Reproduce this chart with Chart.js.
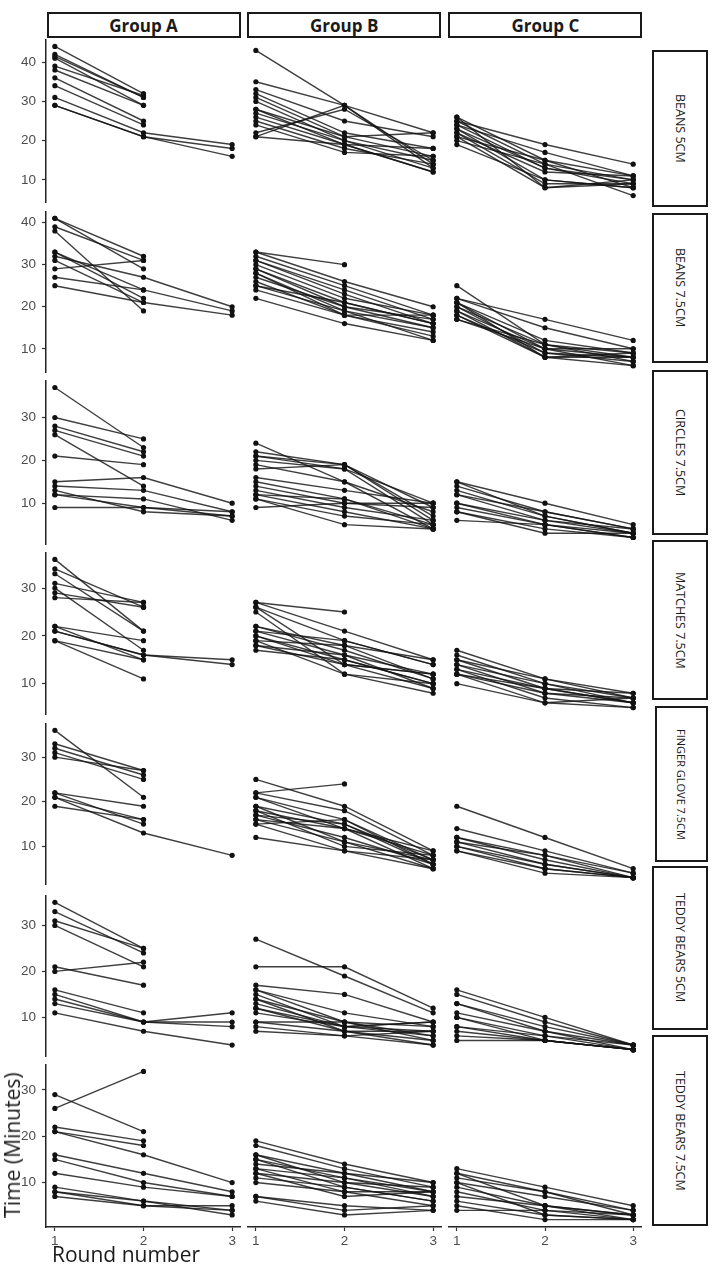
<!DOCTYPE html>
<html>
<head>
<meta charset="utf-8">
<script src="https://cdn.jsdelivr.net/npm/chart.js@4.4.1/dist/chart.umd.min.js"></script>
<style>
  body { margin: 0; background: #fff; }
  #page { position: relative; width: 725px; height: 1269px; overflow: hidden; font-family: "Open Sans", sans-serif; }
  canvas { position: absolute; }
  .strip { position: absolute; box-sizing: border-box; border: 2px solid #1a1a1a; display: flex; align-items: center; justify-content: center; color: #1a1a1a; background: #fff; }
  .colstrip { font-weight: bold; font-size: 17px; }
  .rowstrip { writing-mode: vertical-rl; font-size: 12px; }
  .title { position: absolute; color: #1a1a1a; font-size: 21px; white-space: nowrap; }
</style>
</head>
<body>
<div id="page"></div>
<script>
// rounds on the x axis
var rounds = [1, 2, 3];
var groups = ["Group A", "Group B", "Group C"];
var tasks = ["BEANS 5CM", "BEANS 7.5CM", "CIRCLES 7.5CM", "MATCHES 7.5CM",
  "FINGER GLOVE 7.5CM", "TEDDY BEARS 5CM", "TEDDY BEARS 7.5CM"];

// one row per child: time at round 1, 2, 3 (null = not done)
var beans5A = [[44,32,null],[42,31,null],[41.5,31,null],[41,29,null],[39,31.5,null],[38,29,null],[36,25,null],[34,24,null],[31,22,19],[29,21,18],[29,21,16]];
var beans5B = [[43,29,14],[35,29,22],[33,25,21],[32,22,18],[31,21,16],[30,20,15],[28,19,18],[27,20,13],[26,19,12],[25,18,14],[24,17,16],[22,28,15],[21,29,13],[21,19,12],[28,21,22]];
var beans5C = [[26,15,11],[25,19,14],[25,14,10],[24,17,11],[24,13,9],[23,10,8],[23,13,10],[22,9,9],[22,12,11],[21,8,10],[21,15,8],[20,14,6],[19,10,8],[26,8,9]];

var beans75A = [[41,32,null],[41,29,null],[39,31,null],[38,19,null],[33,24,null],[33,22,null],[32,27,20],[31,21,null],[29,31,null],[27,24,19],[25,21,18]];
var beans75B = [[33,30,null],[33,26,20],[32,25,18],[31,24,17],[31,23,16],[30,22,18],[29,21,16],[29,20,15],[28,19,15],[28,18,13],[27,20,17],[26,18,18],[25,19,12],[25,21,16],[24,18,14],[22,16,12]];
var beans75C = [[25,11,9],[22,17,12],[22,15,10],[21,12,9],[21,10,8],[20,9,8],[20,11,7],[19,10,10],[19,8,9],[18,8,6],[18,9,7],[17,11,8],[17,10,6],[21,8,8]];

var circles75A = [[37,23,null],[30,25,null],[28,22,null],[27,21,null],[26,14,null],[21,19,null],[15,16,10],[14,13,8],[13,8,7],[12,11,6],[12,9,7],[9,9,8]];
var circles75B = [[24,15,8],[22,19,9],[21,18,5],[21,19,7],[20,18,10],[19,15,4],[18,19,6],[16,13,10],[15,11,5],[14,10,9],[13,9,6],[12,8,4],[12,11,4],[11,7,5],[11,5,4],[9,10,10]];
var circles75C = [[15,10,5],[14,8,4],[13,7,3],[12,6,3],[10,5,2],[10,6,4],[9,5,3],[8,4,2],[8,3,3],[6,5,2],[12,8,4],[15,7,3]];

var matches75A = [[36,21,null],[34,26,null],[33,21,null],[31,27,null],[30,17,null],[29,26,null],[28,27,null],[22,19,null],[22,15,null],[21,16,15],[21,16,14],[19,11,null],[19,15,null]];
var matches75B = [[27,25,null],[27,21,15],[26,19,14],[26,14,12],[25,12,10],[22,18,15],[22,17,11],[21,16,12],[21,19,14],[20,14,9],[20,15,10],[19,18,11],[19,12,8],[18,14,12],[18,16,9],[17,15,10]];
var matches75C = [[17,11,8],[16,10,7],[15,9,6],[15,11,7],[14,10,6],[14,8,7],[13,9,6],[13,7,5],[12,9,8],[12,8,6],[12,6,7],[10,6,5]];

var finger75A = [[36,21,null],[33,27,null],[32,26,null],[31,25,null],[30,27,null],[22,19,null],[22,15,null],[21,16,null],[21,13,8],[19,16,null]];
var finger75B = [[25,19,9],[22,24,null],[22,18,8],[21,16,7],[21,14,9],[19,15,6],[19,11,7],[18,14,5],[18,10,8],[17,12,6],[17,15,7],[16,11,5],[16,14,8],[15,16,6],[15,9,7],[12,9,5]];
var finger75C = [[19,12,5],[14,9,4],[12,8,3],[12,7,3],[11,6,3],[11,8,4],[10,5,3],[10,6,3],[9,4,3],[9,5,3]];

var teddy5A = [[35,25,null],[33,24,null],[31,25,null],[30,21,null],[21,17,null],[20,22,null],[16,11,null],[15,9,11],[14,9,9],[13,9,8],[11,7,4]];
var teddy5B = [[27,19,11],[21,21,12],[17,15,9],[16,11,8],[16,9,6],[15,8,7],[14,9,5],[14,7,4],[13,8,9],[12,8,9],[12,7,7],[11,8,6],[9,9,8],[9,7,5],[7,6,7],[8,6,4]];
var teddy5C = [[16,10,4],[15,9,4],[13,8,4],[13,7,3],[11,7,4],[10,6,3],[10,5,3],[8,6,4],[8,5,3],[7,5,3],[6,5,3],[5,5,3]];

var teddy75A = [[29,21,null],[26,34,null],[22,19,null],[21,18,null],[21,16,10],[16,12,8],[15,10,7],[12,9,7],[9,6,3],[8,5,5],[7,5,4],[8,6,4]];
var teddy75B = [[19,14,10],[18,13,9],[16,12,8],[16,10,7],[15,11,8],[15,9,6],[13,8,8],[13,11,7],[12,10,9],[12,7,8],[11,9,6],[10,8,5],[7,5,4],[7,4,5],[6,3,4],[14,12,10]];
var teddy75C = [[13,9,5],[12,8,4],[11,8,3],[10,7,4],[9,5,3],[8,4,2],[7,5,3],[6,3,2],[5,2,2],[4,4,3],[12,5,2],[10,3,2]];

// y tick labels per row
var yTicks = [[10,20,30,40],[10,20,30,40],[10,20,30],[10,20,30],[10,20,30],[10,20,30],[10,20,30]];
var yLimits = [[4.1,45.9],[4.25,42.75],[0.25,38.75],[3.45,37.55],[1.35,37.65],[1.4,36.6],[0.4,35.6]];

var panels = [
  [beans5A, beans5B, beans5C],
  [beans75A, beans75B, beans75C],
  [circles75A, circles75B, circles75C],
  [matches75A, matches75B, matches75C],
  [finger75A, finger75B, finger75C],
  [teddy5A, teddy5B, teddy5C],
  [teddy75A, teddy75B, teddy75C]
];

// layout in page pixels
var colLeft = [46, 247, 448];
var colWidth = [195, 195, 194];
var rowTop = [39, 211, 380, 552, 723, 895, 1064];
var rowHeight = [164, 162, 165, 163, 162, 162, 163];
var stripBox = [[50,157,652,12.5],[213,150,652,12.5],[370,165,652,12.5],[540,160,652,12.5],[706,156,655,11],[866,164,652,12.5],[1035,191,652,12.5]];
var yAxisW = 46, xAxisH = 30;

var page = document.getElementById("page");

function toPoints(row) {
  var pts = [];
  row.forEach(function (v, i) { if (v !== null) pts.push({ x: rounds[i], y: v }); });
  return pts;
}

function noPad(s) {
  s.paddingTop = 0; s.paddingBottom = 0; s.paddingLeft = 0; s.paddingRight = 0;
}

function panel(r, c) {
  var showY = c === 0, showX = r === panels.length - 1;
  var left = showY ? 0 : colLeft[c];
  var w = showY ? colLeft[c] + colWidth[c] : colWidth[c];
  var h = rowHeight[r] + (showX ? xAxisH : 0);
  var cv = document.createElement("canvas");
  cv.width = w; cv.height = h;
  cv.style.left = left + "px"; cv.style.top = rowTop[r] + "px";
  cv.style.width = w + "px"; cv.style.height = h + "px";
  page.appendChild(cv);

  var tickFont = { family: "Liberation Sans", size: 13.5 };
  new Chart(cv, {
    type: "line",
    data: {
      datasets: panels[r][c].map(function (row) {
        return {
          data: toPoints(row),
          borderColor: "rgba(20,20,20,0.82)",
          borderWidth: 1.4,
          pointRadius: 2.6,
          pointBackgroundColor: "#111",
          pointBorderWidth: 0,
          tension: 0
        };
      })
    },
    options: {
      responsive: false,
      animation: false,
      devicePixelRatio: 1,
      events: [],
      layout: { padding: 0, autoPadding: false },
      plugins: { legend: { display: false }, tooltip: { enabled: false } },
      scales: {
        x: {
          type: "linear", min: 0.9, max: 3.1, display: showX,
          afterBuildTicks: function (s) { s.ticks = rounds.map(function (v) { return { value: v }; }); },
          afterFit: function (s) { s.height = showX ? xAxisH : 0; noPad(s); },
          grid: { drawOnChartArea: false, tickLength: 4, tickColor: "#333", tickWidth: 1.2 },
          border: { color: "#222", width: 1.5 },
          ticks: { color: "#4d4d4d", font: tickFont, padding: 2 }
        },
        y: {
          type: "linear", min: yLimits[r][0], max: yLimits[r][1], display: showY,
          afterBuildTicks: function (s) { s.ticks = yTicks[r].map(function (v) { return { value: v }; }); },
          afterFit: function (s) { s.width = showY ? yAxisW : 0; noPad(s); },
          grid: { drawOnChartArea: false, tickLength: 4, tickColor: "#333", tickWidth: 1.2 },
          border: { color: "#222", width: 1.5 },
          ticks: { color: "#4d4d4d", font: tickFont, padding: 6 }
        }
      }
    }
  });
}

for (var r = 0; r < panels.length; r++) {
  for (var c = 0; c < 3; c++) panel(r, c);
}

// facet strips
var headLeft = [46.5, 247.2, 448.4];
groups.forEach(function (g, i) {
  var d = document.createElement("div");
  d.className = "strip colstrip";
  d.style.left = headLeft[i] + "px"; d.style.top = "12px";
  d.style.width = "194px"; d.style.height = "26px";
  d.textContent = g;
  page.appendChild(d);
});
tasks.forEach(function (t, i) {
  var b = stripBox[i];
  var d = document.createElement("div");
  d.className = "strip rowstrip";
  d.style.top = b[0] + "px"; d.style.height = b[1] + "px";
  d.style.left = b[2] + "px"; d.style.width = (708 - b[2]) + "px";
  d.style.fontSize = b[3] + "px";
  d.textContent = t;
  page.appendChild(d);
});

// axis titles
var yt = document.createElement("div");
yt.className = "title";
yt.textContent = "Time (Minutes)";
yt.style.left = "12px"; yt.style.top = "1145px";
yt.style.transform = "translate(-50%,-50%) rotate(-90deg)";
page.appendChild(yt);

var xt = document.createElement("div");
xt.className = "title";
xt.textContent = "Round number";
xt.style.left = "52px"; xt.style.top = "1240px";
page.appendChild(xt);
</script>
</body>
</html>
